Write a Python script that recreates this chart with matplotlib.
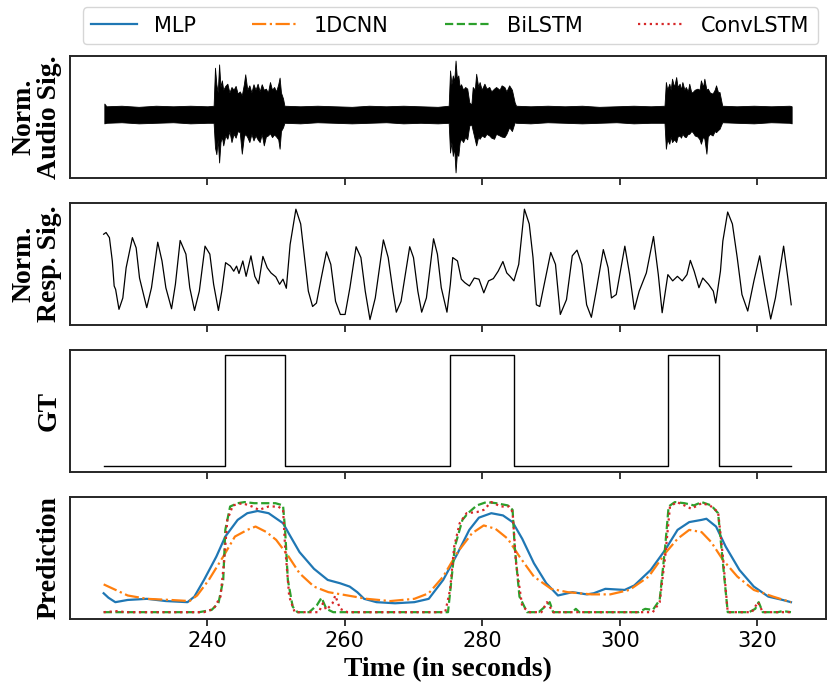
import numpy as np
import matplotlib
matplotlib.use("Agg")
import matplotlib.pyplot as plt

# ---------------- data ----------------
# Audio envelope (time in s, upper, lower), normalized amplitude
audio_t = [225.0, 225.3, 227.5, 230.0, 232.5, 235.0, 237.5, 240.0, 240.9,
           241.1, 241.3, 241.5, 241.7, 241.9, 242.1, 242.3, 242.6, 242.9, 243.2, 243.5, 243.8, 244.1, 244.4,
           244.7, 245.0, 245.3, 245.5, 245.8, 246.1, 246.4, 246.7, 247.0, 247.3, 247.6, 247.9, 248.2, 248.5,
           248.8, 249.1, 249.4, 249.7, 250.0, 250.3, 250.5, 250.7, 251.0, 251.2,
           253.5, 256.0, 258.5, 261.0, 263.5, 266.0, 268.5, 271.0, 273.5, 275.1,
           275.3, 275.5, 275.7, 275.9, 276.1, 276.3, 276.5, 276.7, 276.9, 277.2, 277.5, 277.8, 278.1, 278.4,
           278.6, 278.9, 279.1, 279.4, 279.6, 279.9, 280.3, 280.6, 281.0, 281.3, 281.7, 282.0, 282.5, 282.8,
           283.2, 283.5, 283.9, 284.3, 284.7, 284.9,
           287.0, 289.5, 292.0, 294.5, 297.0, 299.5, 302.0, 304.5, 306.5,
           306.7, 306.9, 307.2, 307.4, 307.6, 307.9, 308.2, 308.4, 308.7, 308.9, 309.1, 309.4, 309.6, 309.9,
           310.1, 310.4, 310.6, 310.9, 311.3, 311.6, 311.8, 312.1, 312.3, 312.6, 312.8, 313.1, 313.5, 313.8,
           314.0, 314.3, 314.5, 314.9,
           317.0, 319.5, 322.0, 324.7, 325.0]
audio_up = [0.20, 0.15, 0.16, 0.14, 0.16, 0.15, 0.16, 0.15, 0.16,
            0.85, 0.55, 0.40, 0.91, 0.50, 0.62, 0.45, 0.52, 0.56, 0.40, 0.50, 0.45, 0.52, 0.38,
            0.42, 0.35, 0.55, 0.73, 0.45, 0.53, 0.40, 0.55, 0.45, 0.56, 0.42, 0.55, 0.45, 0.47,
            0.40, 0.59, 0.45, 0.50, 0.42, 0.55, 0.67, 0.40, 0.29, 0.16,
            0.15, 0.16, 0.15, 0.14, 0.16, 0.15, 0.16, 0.15, 0.14, 0.16,
            0.80, 0.55, 0.71, 0.60, 0.98, 0.65, 0.71, 0.50, 0.55, 0.45, 0.50, 0.47, 0.22, 0.18,
            0.50, 0.45, 0.74, 0.50, 0.59, 0.45, 0.56, 0.47, 0.50, 0.42, 0.47, 0.50, 0.45, 0.53,
            0.50, 0.42, 0.53, 0.45, 0.22, 0.16,
            0.15, 0.16, 0.15, 0.16, 0.14, 0.15, 0.16, 0.15, 0.16,
            0.59, 0.45, 0.56, 0.45, 0.65, 0.50, 0.68, 0.50, 0.56, 0.45, 0.59, 0.45, 0.50, 0.42,
            0.56, 0.40, 0.41, 0.45, 0.47, 0.45, 0.62, 0.50, 0.65, 0.45, 0.47, 0.40, 0.38, 0.45,
            0.53, 0.40, 0.41, 0.16,
            0.15, 0.16, 0.15, 0.16, 0.15]
audio_lo = [-0.16, -0.15, -0.14, -0.16, -0.15, -0.14, -0.16, -0.15, -0.15,
            -0.60, -0.72, -0.45, -0.87, -0.50, -0.40, -0.56, -0.38, -0.44, -0.30, -0.50, -0.35, -0.42, -0.30,
            -0.32, -0.71, -0.40, -0.35, -0.41, -0.50, -0.35, -0.47, -0.38, -0.45, -0.50, -0.35, -0.56, -0.40,
            -0.38, -0.34, -0.41, -0.36, -0.40, -0.45, -0.62, -0.30, -0.23, -0.15,
            -0.16, -0.14, -0.15, -0.16, -0.15, -0.14, -0.16, -0.15, -0.16, -0.15,
            -0.69, -0.50, -0.75, -0.60, -1.05, -0.70, -0.75, -0.50, -0.44, -0.50, -0.41, -0.45, -0.20, -0.18,
            -0.29, -0.45, -0.56, -0.40, -0.44, -0.38, -0.41, -0.35, -0.38, -0.42, -0.44, -0.35, -0.38, -0.40,
            -0.41, -0.35, -0.23, -0.30, -0.14, -0.15,
            -0.16, -0.14, -0.15, -0.16, -0.15, -0.14, -0.16, -0.15, -0.15,
            -0.62, -0.45, -0.53, -0.40, -0.50, -0.45, -0.50, -0.40, -0.38, -0.42, -0.35, -0.40, -0.41, -0.35,
            -0.35, -0.30, -0.32, -0.38, -0.40, -0.45, -0.53, -0.40, -0.44, -0.71, -0.40, -0.35, -0.38, -0.30,
            -0.32, -0.28, -0.26, -0.14,
            -0.15, -0.16, -0.14, -0.15, -0.16]

# Respiration signal
resp_t = [224.90, 225.25, 225.74, 226.16, 226.43, 226.64, 227.13, 227.69, 228.17, 229.08, 229.63, 230.12,
          231.17, 231.86, 232.77, 233.39, 233.95, 234.78, 235.34, 236.03, 236.87, 237.43, 238.12, 238.82,
          239.65, 240.35, 240.90, 241.60, 242.09, 242.64, 243.34, 243.83, 244.24, 244.59, 245.15, 245.63,
          246.33, 246.89, 247.44, 248.07, 248.70, 249.25, 249.95, 250.50, 250.99, 251.48, 252.03, 252.87,
          253.57, 254.12, 254.68, 255.30, 255.86, 256.56, 257.32, 257.95, 258.64, 259.34, 260.03, 260.73,
          261.63, 262.33, 262.96, 263.65, 264.42, 265.60, 266.30, 266.99, 267.48, 268.17, 269.43, 269.98,
          270.61, 271.17, 271.86, 272.90, 273.46, 274.02, 274.85, 275.34, 275.69, 276.38, 276.94, 277.43,
          278.12, 278.82, 279.51, 280.21, 280.90, 281.60, 282.30, 282.99, 283.55, 284.03, 284.59, 285.29,
          286.12, 286.82, 287.37, 287.86, 288.35, 288.90, 289.95, 290.64, 291.34, 292.24, 293.08, 293.77,
          294.47, 295.17, 295.86, 296.56, 297.60, 298.30, 298.78, 299.48, 300.73, 301.43, 302.12, 302.82,
          303.86, 304.90, 305.60, 306.16, 306.99, 307.69, 308.38, 309.08, 309.77, 310.26, 310.82, 311.51,
          312.07, 312.90, 313.60, 313.95, 314.64, 314.99, 315.69, 316.38, 317.08, 317.77, 318.61, 319.51,
          320.35, 321.04, 321.95, 322.64, 323.83, 324.38, 324.94]
resp_v = [0.53, 0.56, 0.47, 0.06, -0.38, -0.44, -0.79, -0.59, -0.06, 0.47, 0.29, -0.24,
          -0.76, -0.41, 0.39, 0.06, -0.41, -0.78, -0.35, 0.42, 0.18, -0.41, -0.81, -0.47,
          0.32, 0.18, -0.35, -0.81, -0.47, 0.03, -0.03, -0.12, -0.03, -0.16, 0.06, -0.21,
          0.15, -0.21, -0.34, 0.14, -0.06, -0.15, -0.22, -0.35, -0.26, -0.42, 0.35, 0.97,
          0.71, 0.12, -0.47, -0.74, -0.68, -0.24, 0.22, 0.00, -0.65, -0.88, -0.88, -0.41,
          0.31, 0.12, -0.47, -0.97, -0.59, 0.43, 0.12, -0.47, -0.84, -0.65, 0.31, 0.12,
          -0.47, -0.84, -0.59, 0.45, 0.18, -0.41, -0.84, -0.35, 0.12, 0.06, -0.26, -0.32,
          -0.38, -0.24, -0.26, -0.50, -0.29, -0.25, -0.12, 0.05, -0.15, -0.21, -0.29, 0.00,
          0.97, 0.71, 0.12, -0.71, -0.74, -0.41, 0.21, 0.00, -0.88, -0.62, 0.15, 0.25,
          0.00, -0.71, -0.93, -0.47, 0.26, -0.06, -0.59, -0.53, 0.32, -0.18, -0.79, -0.47,
          -0.15, 0.49, -0.18, -0.85, -0.18, -0.29, -0.21, -0.29, -0.18, 0.07, -0.12, -0.41,
          -0.24, -0.35, -0.47, -0.68, -0.12, 0.41, 0.92, 0.71, 0.12, -0.53, -0.82, -0.29,
          0.15, -0.35, -0.96, -0.59, 0.32, -0.18, -0.71]

# Ground truth (step changes)
gt_t = [224.9, 242.6, 251.3, 275.3, 284.6, 307.0, 314.5, 324.9]
gt_v = [0, 1, 0, 1, 0, 1, 0, 0]

# Predictions
mlp_t = [224.9, 225.6, 226.6, 228.4, 231.2, 233.95, 237.1, 238.1, 239.5, 241.3, 242.6, 244.4, 245.8, 247.3,
         248.9, 251.0, 252.0, 253.4, 255.5, 257.5, 259.3, 260.7, 261.8, 262.8, 264.6, 267.3, 270.1, 272.2,
         274.3, 276.4, 278.1, 279.5, 281.3, 283.0, 284.4, 285.8, 287.5, 289.3, 291.0, 293.1, 295.2, 296.2,
         297.9, 300.7, 302.1, 304.5, 306.6, 308.4, 310.1, 311.9, 312.6, 314.0, 315.4, 317.4, 319.5, 321.6,
         323.7, 324.9]
mlp_v = [0.18, 0.14, 0.10, 0.12, 0.13, 0.11, 0.10, 0.15, 0.30, 0.51, 0.69, 0.84, 0.90, 0.92,
         0.90, 0.81, 0.70, 0.55, 0.40, 0.30, 0.27, 0.24, 0.19, 0.13, 0.10, 0.09, 0.10, 0.13,
         0.30, 0.54, 0.75, 0.86, 0.90, 0.88, 0.82, 0.67, 0.45, 0.27, 0.16, 0.19, 0.17, 0.18,
         0.22, 0.21, 0.25, 0.39, 0.57, 0.75, 0.82, 0.84, 0.85, 0.78, 0.60, 0.39, 0.24, 0.15,
         0.12, 0.10]

cnn_t = [224.9, 226.3, 228.4, 231.2, 234.6, 237.4, 238.5, 240.2, 242.3, 244.0, 245.8, 247.0, 248.6, 250.0,
         251.7, 253.4, 255.5, 257.6, 260.4, 263.2, 266.6, 270.1, 272.2, 274.3, 276.4, 278.5, 280.2, 281.9,
         283.7, 285.4, 287.5, 290.0, 292.4, 295.9, 298.6, 301.4, 304.2, 306.6, 308.4, 310.1, 311.9, 313.3,
         315.0, 317.1, 319.5, 322.3, 324.9]
cnn_v = [0.26, 0.22, 0.16, 0.13, 0.12, 0.11, 0.16, 0.30, 0.51, 0.69, 0.75, 0.78, 0.73, 0.66,
         0.52, 0.36, 0.24, 0.19, 0.16, 0.13, 0.11, 0.13, 0.18, 0.33, 0.55, 0.72, 0.79, 0.76,
         0.67, 0.51, 0.33, 0.22, 0.19, 0.17, 0.17, 0.21, 0.33, 0.54, 0.67, 0.75, 0.73, 0.64,
         0.48, 0.33, 0.21, 0.15, 0.10]

bilstm_t = [224.9, 238.8, 240.6, 241.6, 242.3, 242.6, 243.3, 244.4, 245.4, 246.8, 247.9, 249.9, 251.0, 251.3,
            251.7, 252.4, 253.1, 254.8, 255.9, 256.6, 257.3, 258.3, 275.0, 275.5, 276.0, 277.1, 277.9, 279.2,
            280.6, 282.0, 283.7, 284.4, 284.7, 285.4, 286.5, 288.2, 289.3, 289.8, 290.3, 293.1, 293.6, 294.1,
            302.7, 303.7, 304.8, 305.8, 306.6, 307.1, 308.0, 309.4, 310.8, 311.9, 313.3, 314.3, 315.0, 315.7,
            318.8, 319.7, 320.2, 320.8, 323.0, 323.7, 324.9]
bilstm_v = [0.01, 0.01, 0.03, 0.09, 0.30, 0.75, 0.96, 0.99, 1.00, 0.99, 0.99, 0.99, 0.97, 0.75,
            0.30, 0.06, 0.01, 0.01, 0.07, 0.14, 0.04, 0.01, 0.01, 0.30, 0.60, 0.84, 0.90, 0.97,
            1.00, 0.99, 0.97, 0.93, 0.60, 0.15, 0.01, 0.01, 0.07, 0.10, 0.01, 0.01, 0.04, 0.01,
            0.01, 0.04, 0.03, 0.12, 0.60, 0.96, 1.00, 0.99, 0.97, 1.00, 0.97, 0.90, 0.45, 0.01,
            0.01, 0.04, 0.10, 0.01, 0.01, 0.02, 0.01]

convlstm_t = [224.9, 227.0, 228.0, 239.5, 240.9, 241.9, 242.4, 242.9, 243.7, 245.1, 246.5, 247.5, 248.9, 250.3,
              251.0, 251.3, 251.9, 252.7, 256.2, 256.8, 257.3, 258.2, 258.6, 259.3, 260.4, 274.6, 275.3, 275.9,
              276.7, 277.7, 279.2, 280.2, 281.3, 282.7, 283.9, 284.4, 284.9, 285.8, 286.9, 288.6, 289.4, 290.3,
              304.8, 305.8, 306.6, 307.3, 308.3, 309.4, 310.4, 311.9, 313.1, 314.3, 315.0, 315.7, 319.2, 320.1,
              320.8, 324.9]
convlstm_v = [0.01, 0.02, 0.01, 0.01, 0.04, 0.15, 0.45, 0.84, 0.97, 0.99, 0.96, 0.93, 0.96, 0.96,
              0.93, 0.60, 0.15, 0.01, 0.01, 0.09, 0.03, 0.09, 0.16, 0.04, 0.01, 0.01, 0.21, 0.60,
              0.81, 0.90, 0.91, 0.93, 1.00, 0.96, 0.96, 0.91, 0.45, 0.06, 0.01, 0.01, 0.10, 0.01,
              0.01, 0.10, 0.51, 0.96, 1.00, 0.97, 0.94, 0.99, 0.97, 0.91, 0.51, 0.01, 0.01, 0.10,
              0.01, 0.01]

xticks = [240, 260, 280, 300, 320]
ylabels = ["Norm.\nAudio Sig.", "Norm.\nResp. Sig.", "GT", "Prediction"]
series_names = ["MLP", "1DCNN", "BiLSTM", "ConvLSTM"]
xlabel = "Time (in seconds)"

# ---------------- plotting ----------------
plt.rcParams['font.family'] = ['DejaVu Sans']
fig, axes = plt.subplots(4, 1, figsize=(8.31, 6.93), dpi=100, sharex=True)
fig.subplots_adjust(left=0.0842, right=0.994, top=0.919, bottom=0.107, hspace=0.2)

spine_col = '#262626'
label_font = dict(family=['Liberation Serif', 'DejaVu Serif'], weight='bold', size=20)

ax = axes[0]
ax.fill_between(audio_t, audio_lo, audio_up, color='black', linewidth=0.6, edgecolor='black')
ax.set_ylim(-1.16, 1.06)

ax = axes[1]
ax.plot(resp_t, resp_v, color='black', linewidth=0.9)
ax.set_ylim(-1.07, 1.08)

ax = axes[2]
ax.plot(gt_t, gt_v, color='black', linewidth=1.0, drawstyle='steps-post')
ax.set_ylim(-0.05, 1.05)

ax = axes[3]
l1, = ax.plot(mlp_t, mlp_v, color='#1f77b4', linestyle='-', linewidth=1.6)
l2, = ax.plot(cnn_t, cnn_v, color='#ff7f0e', linestyle='-.', linewidth=1.6)
l3, = ax.plot(bilstm_t, bilstm_v, color='#2ca02c', linestyle='--', linewidth=1.6)
l4, = ax.plot(convlstm_t, convlstm_v, color='#d62728', linestyle=':', linewidth=1.6)
ax.set_ylim(-0.05, 1.05)

for ax, lab in zip(axes, ylabels):
    ax.set_xlim(220, 330)
    ax.set_xticks(xticks)
    ax.set_yticks([])
    for s in ax.spines.values():
        s.set_color(spine_col)
        s.set_linewidth(1.4)
    ax.tick_params(axis='x', direction='out', length=5, width=1.3, color=spine_col,
                   labelsize=15, pad=4)
    ax.set_ylabel(lab, fontdict=label_font, linespacing=1.0, labelpad=6)

axes[-1].set_xlabel(xlabel, fontdict=label_font, labelpad=4)
fig.align_ylabels(axes)

fig.legend([l1, l2, l3, l4], series_names, loc='lower left', ncol=4, mode='expand',
           bbox_to_anchor=(0.1, 0.9365, 0.884, 0.0565), borderaxespad=0.0,
           fontsize=15, handlelength=2.2, frameon=True, edgecolor='0.8', fancybox=True)

fig.savefig('out.png', dpi=100)
